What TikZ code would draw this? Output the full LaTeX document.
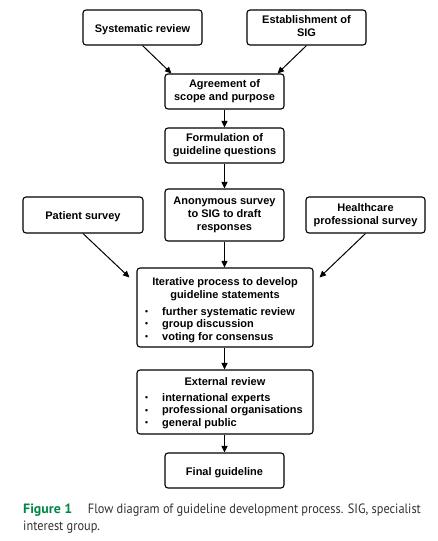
\documentclass[tikz,border=0pt]{standalone}
\usepackage{fontspec}
\usepackage{graphicx}
\setmainfont{Liberation Sans}
\newfontfamily\capfont{PT Sans}
\usetikzlibrary{arrows.meta,calc}
\definecolor{capgreen}{RGB}{0,135,70}
\definecolor{capgray}{RGB}{50,50,50}
\newcommand\boxfont{\bfseries\fontsize{11}{12.7}\selectfont}
\newcommand\bul{\raisebox{0.8pt}{\fontsize{8.5}{8.5}\selectfont\textbullet}}
\newcommand\capsize{\fontsize{13.5}{13.5}\selectfont}
\newlength\capw
\tikzset{
  box/.style={draw=black, line width=1.1pt, rounded corners=3pt, inner sep=0pt,
    minimum width=119pt, minimum height=35pt, align=center, font=\boxfont,
    execute at begin node={\rule{0pt}{11.5pt}},
    execute at end node={\rule[-2.5pt]{0pt}{0pt}}},
  frame/.style={draw=black, line width=1.1pt, rounded corners=3pt, inner sep=0pt,
    minimum width=176pt},
  arr/.style={-{Triangle[length=6.5pt,width=6pt]}, line width=1pt},
  txt/.style={font=\boxfont, inner sep=0pt, anchor=base},
  litem/.style={font=\boxfont, inner sep=0pt, anchor=base west},
  captxt/.style={inner sep=0pt, anchor=base west, text=capgray,
    font=\capfont\capsize},
}
\begin{document}
\settowidth{\capw}{\capfont\capsize Flow diagram of guideline development process. SIG, specialist}%
\begin{tikzpicture}[x=1pt,y=-1pt]
\pgfmathsetmacro\capsx{333/\capw}
\path[fill=white, use as bounding box] (0,0) rectangle (437,541);

\node[box] (sr) at (142.5,27.5) {Systematic review};
\node[box] (sig) at (306.5,27.5) {Establishment of\\SIG};
\node[box] (agr) at (224.5,91.5) {Agreement of\\scope and purpose};
\node[box] (form) at (224.5,145.5) {Formulation of\\guideline questions};
\node[box, minimum height=52pt] (anon) at (224.5,215) {Anonymous survey\\to SIG to draft\\responses};
\node[box, minimum width=120pt, minimum height=36pt] (pat) at (83,215) {Patient survey};
\node[box, minimum height=36pt] (hc) at (365.5,215) {Healthcare\\professional survey};

\node[frame, minimum height=79pt] (iter) at (225,307.5) {};
\node[txt] (it1) at (225,285.7) {Iterative process to develop};
\node[txt] (it2) at (225,298.4) {guideline statements};
\node[litem] (il1) at (162,315) {\llap{\bul\hspace{14pt}}further systematic review};
\node[litem] (il2) at (162,327.5) {\llap{\bul\hspace{14pt}}group discussion};
\node[litem] (il3) at (162,340) {\llap{\bul\hspace{14pt}}voting for consensus};

\node[frame, minimum height=64pt] (ext) at (225,402) {};
\node[txt] (et1) at (225,385.3) {External review};
\node[litem] (el1) at (162,401.3) {\llap{\bul\hspace{14pt}}international experts};
\node[litem] (el2) at (162,413.8) {\llap{\bul\hspace{14pt}}professional organisations};
\node[litem] (el3) at (162,426.3) {\llap{\bul\hspace{14pt}}general public};

\node[box] (fin) at (224.5,470.5) {Final guideline};

\draw[arr] (sr.south) -- ([xshift=7pt]agr.north west);
\draw[arr] (sig.south) -- ([xshift=-7pt]agr.north east);
\draw[arr] (agr.south) -- (form.north);
\draw[arr] (form.south) -- (anon.north);
\draw[arr] (anon.south) -- (anon.south |- iter.north);
\draw[arr] (pat.south) -- ([xshift=-7pt,yshift=-10pt]iter.north west);
\draw[arr] (hc.south) -- ([xshift=6pt,yshift=-10pt]iter.north east);
\draw[arr] (iter.south -| anon.south) -- (ext.north -| anon.south);
\draw[arr] (ext.south -| anon.south) -- (fin.north);

\node[captxt] (cap1) at (23,513.3) {\resizebox{49pt}{\height}{\textcolor{capgreen}{\bfseries Figure 1}}};
\node[captxt] (cap2) at (87.7,513.3) {\scalebox{\capsx}[1]{Flow diagram of guideline development process. SIG, specialist}};
\node[captxt] (cap3) at (23,530.5) {\scalebox{\capsx}[1]{interest group.}};
\end{tikzpicture}
\end{document}
